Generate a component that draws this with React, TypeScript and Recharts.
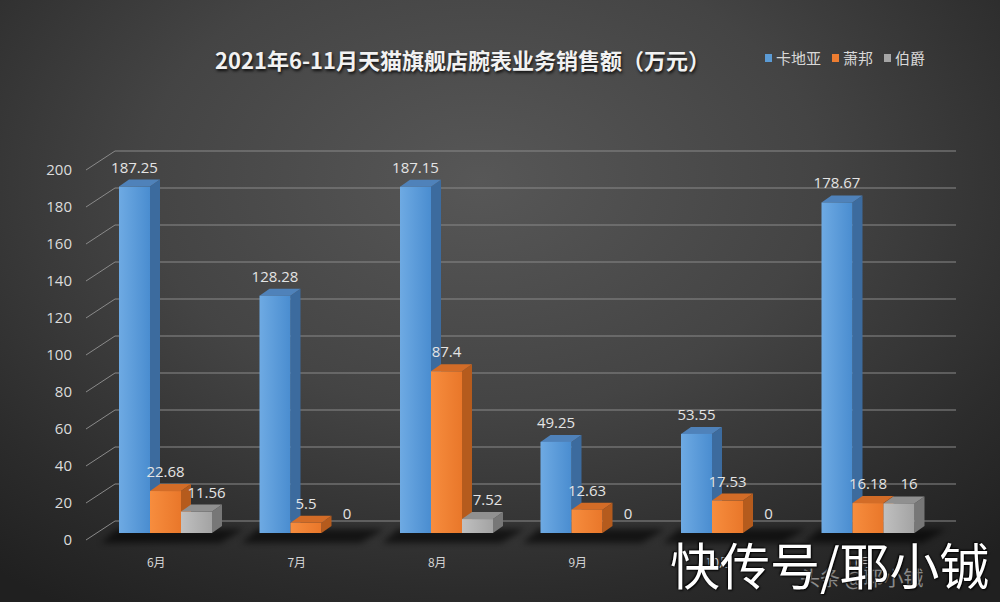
import React from 'react';
import { BarChart, Bar, XAxis, YAxis, CartesianGrid, LabelList } from 'recharts';

// sales per month, 万元
const months = ['6月', '7月', '8月', '9月', '10月', '11月'];
const cartier = [187.25, 128.28, 187.15, 49.25, 53.55, 178.67];
const chopard = [22.68, 5.5, 87.4, 12.63, 17.53, 16.18];
const piaget = [11.56, 0, 7.52, 0, 0, 16];
const yTicks = [0, 20, 40, 60, 80, 100, 120, 140, 160, 180, 200];

const series = [
  { key: 'cartier', name: '卡地亚', front: ['#6eaae3', '#4a8dd0'], top: '#4f82ba', side: '#3c6b9e', legend: '#5b9bd5', labelDx: 0 },
  { key: 'chopard', name: '萧邦', front: ['#f78d3e', '#e9772a'], top: '#d36c27', side: '#b55b1d', legend: '#ed7d31', labelDx: 0 },
  { key: 'piaget', name: '伯爵', front: ['#c0c0c0', '#a3a3a3'], top: '#909090', side: '#777777', legend: '#a5a5a5', labelDx: 10 },
];

const data = months.map((m, i) => ({
  month: m,
  cartier: cartier[i],
  chopard: chopard[i],
  piaget: piaget[i],
}));

const FONT = '"Open Sans", "Noto Sans CJK SC", sans-serif';
const CJK = '"Noto Sans CJK SC", "Noto Sans", sans-serif';
const DX = 10;
const DY = -7;
const SHIFT = 9;

const makeShape = (s: any, idx: number) => (props: any) => {
  const { x, y, width, height } = props;
  const bx = x + SHIFT;
  const base = y + height;
  const gid = `front-${s.key}`;
  const shadow =
    idx === 0 ? (
      <g>
        <defs>
          <filter id="floorBlur" x="-20%" y="-100%" width="140%" height="300%">
            <feGaussianBlur stdDeviation="3" />
          </filter>
        </defs>
        <polygon
          points={`${bx - 18},${base + 10} ${bx + width * 3 + 8},${base + 10} ${bx + width * 3 + DX + 22},${base - 4} ${bx - 2},${base - 4}`}
          fill="#000"
          opacity={0.6}
          filter="url(#floorBlur)"
        />
      </g>
    ) : null;
  if (!height || height < 0.5) return <g>{shadow}</g>;
  return (
    <g>
      {shadow}
      <defs>
        <linearGradient id={gid} x1="0" y1="0" x2="1" y2="0">
          <stop offset="0%" stopColor={s.front[0]} />
          <stop offset="100%" stopColor={s.front[1]} />
        </linearGradient>
      </defs>
      <polygon
        points={`${bx + width},${y} ${bx + width + DX},${y + DY} ${bx + width + DX},${base + DY} ${bx + width},${base}`}
        fill={s.side}
      />
      <polygon
        points={`${bx},${y} ${bx + DX},${y + DY} ${bx + width + DX},${y + DY} ${bx + width},${y}`}
        fill={s.top}
      />
      <rect x={bx} y={y} width={width} height={height} fill={`url(#${gid})`} />
    </g>
  );
};

const makeLabel = (dx: number) => (props: any) => {
  const { x, y, width, value } = props;
  return (
    <text
      x={x + SHIFT + width / 2 + dx}
      y={y - 18}
      textAnchor="middle"
      dominantBaseline="middle"
      fontFamily={FONT}
      fontSize={15}
      fill="#e4e4e4"
    >
      {value}
    </text>
  );
};

const gridLine = (p: any) => {
  const { y1, index } = p;
  return (
    <g key={`grid-${index}-${y1}`}>
      <line x1={86} y1={y1 + 7} x2={115} y2={y1 - 12} stroke="#8a8a8a" strokeWidth={1} />
      <line x1={115} y1={y1 - 12} x2={956} y2={y1 - 12} stroke="#8a8a8a" strokeWidth={1.2} />
    </g>
  );
};

const YTick = (props: any) => {
  const { y, payload } = props;
  return (
    <text x={72} y={y + 8} textAnchor="end" dominantBaseline="middle" fontFamily={FONT} fontSize={15} fill="#dcdcdc">
      {payload.value}
    </text>
  );
};

const XTick = (props: any) => {
  const { x, payload } = props;
  return (
    <text x={x} y={567} textAnchor="middle" fontFamily={CJK} fontSize={12} fill="#d4d4d4">
      {payload.value}
    </text>
  );
};

export default function App() {
  return (
    <div
      style={{
        position: 'absolute',
        left: 0,
        top: 0,
        width: 1000,
        height: 602,
        overflow: 'hidden',
        background: 'radial-gradient(ellipse 75% 85% at 48% 30%, #575757 0%, #444444 45%, #2c2c2c 80%, #202020 100%)',
      }}
    >
      <div
        style={{
          position: 'absolute',
          left: 200,
          top: 43,
          width: 525,
          textAlign: 'center',
          fontFamily: CJK,
          fontWeight: 700,
          fontSize: 22,
          color: '#f2f2f2',
          textShadow: '1px 2px 3px rgba(0,0,0,0.8)',
          whiteSpace: 'nowrap',
        }}
      >
        2021年6-11月天猫旗舰店腕表业务销售额（万元）
      </div>
      <div style={{ position: 'absolute', left: 765, top: 47, display: 'flex', fontFamily: CJK, fontSize: 15, color: '#d8d8d8' }}>
        {series.map((s) => (
          <div key={s.key} style={{ display: 'flex', alignItems: 'center', marginRight: 11 }}>
            <span style={{ display: 'inline-block', width: 7, height: 8, background: s.legend, marginRight: 4 }} />
            <span>{s.name}</span>
          </div>
        ))}
      </div>
      <div style={{ position: 'absolute', left: 0, top: 0 }}>
        <BarChart
          width={1000}
          height={602}
          data={data}
          margin={{ top: 163, right: 71, bottom: 39, left: 85 }}
          barSize={31}
          barGap={0}
        >
          <CartesianGrid vertical={false} horizontal={gridLine} />
          <XAxis dataKey="month" axisLine={false} tickLine={false} height={30} tick={<XTick />} interval={0} />
          <YAxis domain={[0, 200]} ticks={yTicks} axisLine={false} tickLine={false} width={1} tick={<YTick />} />
          {series.map((s, i) => (
            <Bar key={s.key} dataKey={s.key} name={s.name} shape={makeShape(s, i)} isAnimationActive={false}>
              <LabelList dataKey={s.key} content={makeLabel(s.labelDx)} />
            </Bar>
          ))}
        </BarChart>
      </div>
      <div
        style={{
          position: 'absolute',
          left: 800,
          top: 563,
          fontFamily: CJK,
          fontSize: 20,
          color: 'rgba(230,230,230,0.55)',
          whiteSpace: 'nowrap',
        }}
      >
        头条 @耶小铖
      </div>
      <div
        style={{
          position: 'absolute',
          left: 670,
          top: 536,
          fontFamily: CJK,
          fontSize: 50,
          lineHeight: 1.1,
          color: '#ffffff',
          textShadow: '1px 1px 2px #000, -1px -1px 2px #000',
          whiteSpace: 'nowrap',
        }}
      >
        快传号/耶小铖
      </div>
    </div>
  );
}
